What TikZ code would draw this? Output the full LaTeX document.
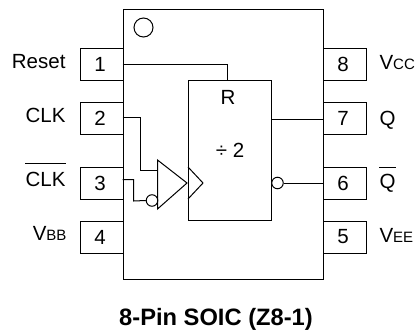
\documentclass[tikz,border=0pt]{standalone}
\usepackage{fontspec}
\setmainfont{Liberation Sans}
\usetikzlibrary{calc}
\tikzset{
  pinbox/.style={draw,fill=white,minimum width=43pt,minimum height=32pt,inner sep=0pt,font=\fontsize{20.5}{24}\selectfont,execute at end node={\kern3pt}},
  pinname/.style={inner sep=0pt,font=\fontsize{20.5}{24}\selectfont},
  notbubble/.style={draw,fill=white,circle,minimum size=11.5pt,inner sep=0pt}
}
\begin{document}
\begin{tikzpicture}[x=1pt,y=-1pt,line width=1pt]
\useasboundingbox (0,0) rectangle (419,332);
% package outline
\node[draw,minimum width=200pt,minimum height=270pt,inner sep=0pt] (chip) at (223,144.5) {};
\node[draw,circle,minimum size=19pt,inner sep=0pt] (dot) at (143.5,27.5) {};
% pins on the left
\node[pinbox] (pin1) at (101.5,64) {1};
\node[pinbox] (pin2) at (101.5,118) {2};
\node[pinbox] (pin3) at (101.5,183) {3};
\node[pinbox] (pin4) at (101.5,237) {4};
% pins on the right
\node[pinbox] (pin8) at (344.5,64) {8};
\node[pinbox] (pin7) at (344.5,118) {7};
\node[pinbox] (pin6) at (344.5,183) {6};
\node[pinbox] (pin5) at (344.5,237) {5};
% names of the pins
\node[pinname,anchor=east] (reset) at (66,61.5) {Reset};
\node[pinname,anchor=east] (clk) at (66,115) {CLK};
\node[pinname,anchor=east] (clkbar) at (66,179) {CLK};
\draw ([yshift=7.5pt]clkbar.north west) -- ([yshift=7.5pt]clkbar.north east);
\node[pinname,anchor=east] (vbb) at (67,233.5) {V{\fontsize{15}{18}\selectfont BB}};
\node[pinname,anchor=west] (vcc) at (379,63) {V{\fontsize{15}{18}\selectfont CC}};
\node[pinname,anchor=west] (q) at (379,120) {Q};
\node[pinname,anchor=west] (qbar) at (379,183) {Q};
\draw ([yshift=6pt]qbar.north west) -- ([yshift=6pt]qbar.north east);
\node[pinname,anchor=west] (vee) at (379,235.5) {V{\fontsize{15}{18}\selectfont EE}};
% divider
\node[draw,minimum width=83pt,minimum height=140.5pt,inner sep=0pt] (div) at (229.5,150.5) {};
\node[pinname] (rlabel) at (228,97) {R};
\node[pinname] (divlabel) at (230,150.5) {÷ 2};
% clock input of the divider
\coordinate (ck1) at (188,167);
\coordinate (ck2) at (203,183);
\coordinate (ck3) at (188,199);
\draw (ck1) -- (ck2) -- (ck3);
% input buffer
\coordinate (buf1) at (157.5,160);
\coordinate (buf2) at (187,183);
\coordinate (buf3) at (157.5,209);
\coordinate (bufin) at (157.5,170);
\draw[fill=white] (buf1) -- (buf2) -- (buf3) -- cycle;
\node[notbubble] (inbubble) at (152,200.5) {};
\node[notbubble] (outbubble) at (277.5,183) {};
% connections
\draw (chip.west |- pin1) -| ([xshift=-2.5pt]div.north);
\draw (chip.west |- 0,117) -| (140,170) -- (bufin);
\draw (chip.west |- 0,179.5) -| (133.5,201) -- (inbubble.west);
\draw (div.east |- 0,119.5) -- (chip.east |- 0,119.5);
\draw (outbubble.east) -- (chip.east |- outbubble);
% title
\node[inner sep=0pt,font=\fontsize{23.7}{28}\selectfont\bfseries] (title) at (216,319) {8-Pin SOIC (Z8-1)};
\end{tikzpicture}
\end{document}
